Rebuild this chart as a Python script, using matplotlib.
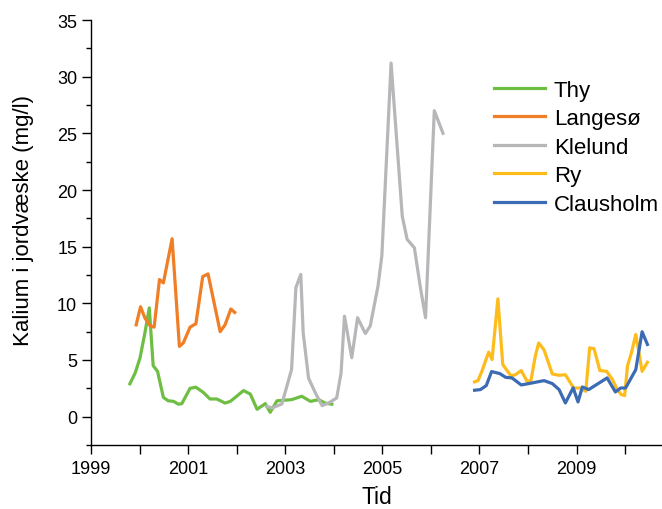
import matplotlib.pyplot as plt
import numpy as np
from matplotlib.ticker import MultipleLocator

plt.rcParams['font.family'] = ['Liberation Sans', 'DejaVu Sans']

# Thy
thy_t = [1999.80, 1999.91, 2000.01, 2000.11, 2000.20, 2000.28, 2000.37, 2000.49,
         2000.59, 2000.70, 2000.80, 2000.87, 2001.04, 2001.16, 2001.31, 2001.45,
         2001.59, 2001.76, 2001.87, 2002.00, 2002.14, 2002.28, 2002.42, 2002.59,
         2002.69, 2002.83, 2003.13, 2003.34, 2003.52, 2003.69, 2003.82, 2003.96]
thy_k = [2.9, 3.86, 5.2, 7.4, 9.6, 4.5, 4.0, 1.7,
         1.4, 1.35, 1.1, 1.15, 2.5, 2.6, 2.15, 1.56,
         1.56, 1.2, 1.35, 1.8, 2.3, 2.0, 0.65, 1.15,
         0.38, 1.4, 1.5, 1.8, 1.35, 1.5, 1.2, 1.1]

# Langesø
lan_t = [1999.93, 2000.02, 2000.11, 2000.22, 2000.30, 2000.41, 2000.49, 2000.67,
         2000.82, 2000.90, 2001.04, 2001.16, 2001.30, 2001.41, 2001.66, 2001.76,
         2001.88, 2001.96]
lan_k = [8.1, 9.7, 8.7, 8.0, 7.9, 12.1, 11.8, 15.7,
         6.2, 6.5, 7.9, 8.2, 12.35, 12.6, 7.5, 8.1,
         9.5, 9.2]

# Klelund
kle_t = [2002.62, 2002.73, 2002.93, 2003.13, 2003.22, 2003.32, 2003.37, 2003.48,
         2003.62, 2003.76, 2003.89, 2004.06, 2004.15, 2004.22, 2004.37, 2004.49,
         2004.65, 2004.75, 2004.91, 2004.99, 2005.18, 2005.41, 2005.51, 2005.66,
         2005.78, 2005.89, 2006.07, 2006.25]
kle_k = [0.9, 0.77, 1.12, 4.15, 11.4, 12.55, 7.4, 3.4,
         2.1, 0.97, 1.2, 1.65, 3.86, 8.87, 5.2, 8.73,
         7.34, 8.0, 11.5, 14.2, 31.2, 17.7, 15.65, 14.9,
         11.5, 8.73, 27.0, 25.0]

# Ry
ry_t = [2006.90, 2006.97, 2007.05, 2007.19, 2007.26, 2007.38, 2007.48, 2007.65,
        2007.74, 2007.86, 2007.98, 2008.06, 2008.15, 2008.22, 2008.33, 2008.50,
        2008.64, 2008.77, 2008.94, 2009.08, 2009.19, 2009.27, 2009.36, 2009.48,
        2009.62, 2009.74, 2009.84, 2009.92, 2009.99, 2010.05, 2010.13, 2010.22,
        2010.35, 2010.46]
ry_k = [3.07, 3.18, 4.0, 5.7, 5.04, 10.4, 4.6, 3.6,
        3.7, 4.07, 3.12, 3.18, 5.33, 6.5, 5.9, 3.77,
        3.65, 3.7, 2.53, 2.53, 2.24, 6.07, 6.0, 4.07,
        4.0, 3.27, 2.39, 1.95, 1.86, 4.5, 5.63, 7.25,
        4.0, 4.8]

# Clausholm
cla_t = [2006.90, 2007.02, 2007.14, 2007.25, 2007.42, 2007.54, 2007.67, 2007.86,
         2007.98, 2008.33, 2008.50, 2008.64, 2008.77, 2008.93, 2009.03, 2009.12,
         2009.25, 2009.63, 2009.80, 2009.91, 2010.01, 2010.22, 2010.35, 2010.46]
cla_k = [2.33, 2.39, 2.74, 3.98, 3.8, 3.47, 3.42, 2.8,
         2.89, 3.18, 2.92, 2.39, 1.21, 2.54, 1.3, 2.62,
         2.39, 3.42, 2.18, 2.53, 2.53, 4.15, 7.49, 6.37]

fig = plt.figure(figsize=(6.62, 5.10), dpi=100)
ax = fig.add_axes([0.1375, 0.1255, 0.8625, 0.8333])

lw = 2.3
ax.plot(thy_t, thy_k, color='#6FBE44', lw=lw, label='Thy')
ax.plot(lan_t, lan_k, color='#F07E26', lw=lw, label='Langesø')
ax.plot(kle_t, kle_k, color='#B7B7BA', lw=lw, label='Klelund')
ax.plot(ry_t, ry_k, color='#FDBC1C', lw=lw, label='Ry')
ax.plot(cla_t, cla_k, color='#3A6BB3', lw=lw, label='Clausholm')

ax.set_xlim(1999, 2010.76)
ax.set_ylim(-2.5, 35)
ax.set_xticks([1999, 2001, 2003, 2005, 2007, 2009])
ax.xaxis.set_minor_locator(MultipleLocator(1))
ax.yaxis.set_major_locator(MultipleLocator(5))
ax.yaxis.set_minor_locator(MultipleLocator(2.5))
ax.tick_params(axis='both', which='major', labelsize=13, length=6.5, width=1)
ax.tick_params(axis='x', which='major', pad=4.5)
ax.tick_params(axis='x', which='minor', length=6.5, width=1)
ax.tick_params(axis='y', which='minor', length=3.5, width=1)
for s in ['top', 'right']:
    ax.spines[s].set_visible(False)
for s in ['left', 'bottom']:
    ax.spines[s].set_linewidth(1)

ax.set_xlabel('Tid', fontsize=16.5)
ax.set_ylabel('Kalium i jordvæske (mg/l)', fontsize=16)
ax.xaxis.set_label_coords(0.5, -0.095)
ax.yaxis.set_label_coords(-0.10, 0.53)

fig.legend(loc='upper left', bbox_to_anchor=(0.746, 0.842), frameon=False,
           fontsize=16, handlelength=2.3, handletextpad=0.4, labelspacing=0.34,
           borderpad=0, borderaxespad=0)

fig.savefig('out.png', dpi=100)
